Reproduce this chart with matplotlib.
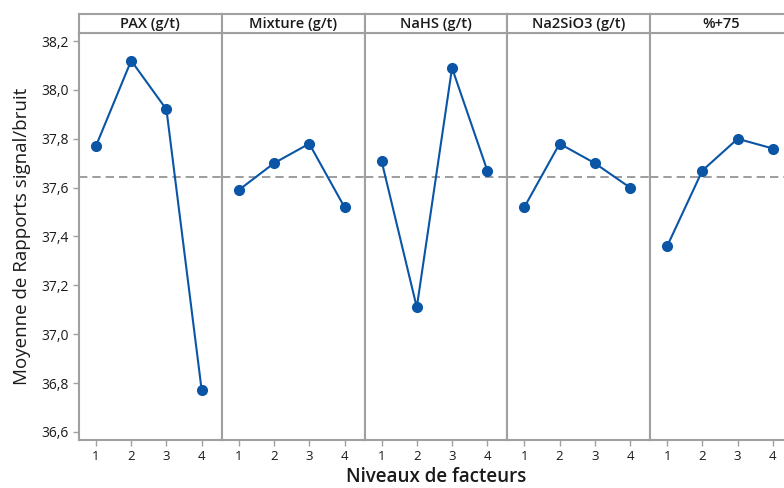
import matplotlib.pyplot as plt
import numpy as np

plt.rcParams['font.family'] = ['Open Sans', 'DejaVu Sans']

factors = ['PAX (g/t)', 'Mixture (g/t)', 'NaHS (g/t)', 'Na2SiO3 (g/t)', '%+75']
levels = [1, 2, 3, 4]
pax = [37.77, 38.12, 37.92, 36.77]
mixture = [37.59, 37.70, 37.78, 37.52]
nahs = [37.71, 37.11, 38.09, 37.67]
na2sio3 = [37.52, 37.78, 37.70, 37.60]
p75 = [37.36, 37.67, 37.80, 37.76]
series = [pax, mixture, nahs, na2sio3, p75]
grand_mean = np.mean(pax)

W, H = 784, 488
fig = plt.figure(figsize=(W / 100, H / 100), dpi=100)

gray = '#a0a0a0'
blue = '#0a55a5'
left_px, panel_w = 79, 142.8
top_px, strip_bot, bot_px = 14, 33, 440

for i, (name, vals) in enumerate(zip(factors, series)):
    x0 = (left_px + i * panel_w) / W
    ax = fig.add_axes([x0, (H - bot_px) / H, panel_w / W, (bot_px - strip_bot) / H])
    ax.plot(levels, vals, color=blue, lw=1.5, marker='o', ms=7, zorder=3)
    ax.axhline(grand_mean, color='#8c8c8c', ls=(0, (5, 3)), lw=1.2, zorder=2)
    ax.set_xlim(0.52, 4.57)
    ax.set_ylim(36.567, 38.233)
    ax.set_xticks(levels)
    ax.tick_params(axis='x', colors=gray, labelcolor='#1a1a1a', labelsize=9.5, length=4, width=1)
    for s in ax.spines.values():
        s.set_color(gray)
        s.set_linewidth(1.5)
    if i == 0:
        ax.set_yticks(np.arange(36.6, 38.21, 0.2))
        ax.set_yticklabels([f'{v:.1f}'.replace('.', ',') for v in np.arange(36.6, 38.21, 0.2)])
        ax.tick_params(axis='y', colors=gray, labelcolor='#1a1a1a', labelsize=10, length=4, width=1)
        ax.set_ylabel('Moyenne de Rapports signal/bruit', fontsize=13.5, color='#1a1a1a', labelpad=7)
    else:
        ax.set_yticks([])
    # header strip
    sx = fig.add_axes([x0, (H - strip_bot) / H, panel_w / W, (strip_bot - top_px) / H])
    sx.set_xticks([])
    sx.set_yticks([])
    for s in sx.spines.values():
        s.set_color(gray)
        s.set_linewidth(1.5)
    sx.text(0.5, 0.48, name, ha='center', va='center', fontsize=10.5, color='#1a1a1a',
            fontweight='semibold', transform=sx.transAxes)

fig.text(436 / W, 1 - 477 / H, 'Niveaux de facteurs', ha='center', va='center',
         fontsize=13.5, fontweight='semibold', color='#1a1a1a')

plt.savefig('out.png', dpi=100)
